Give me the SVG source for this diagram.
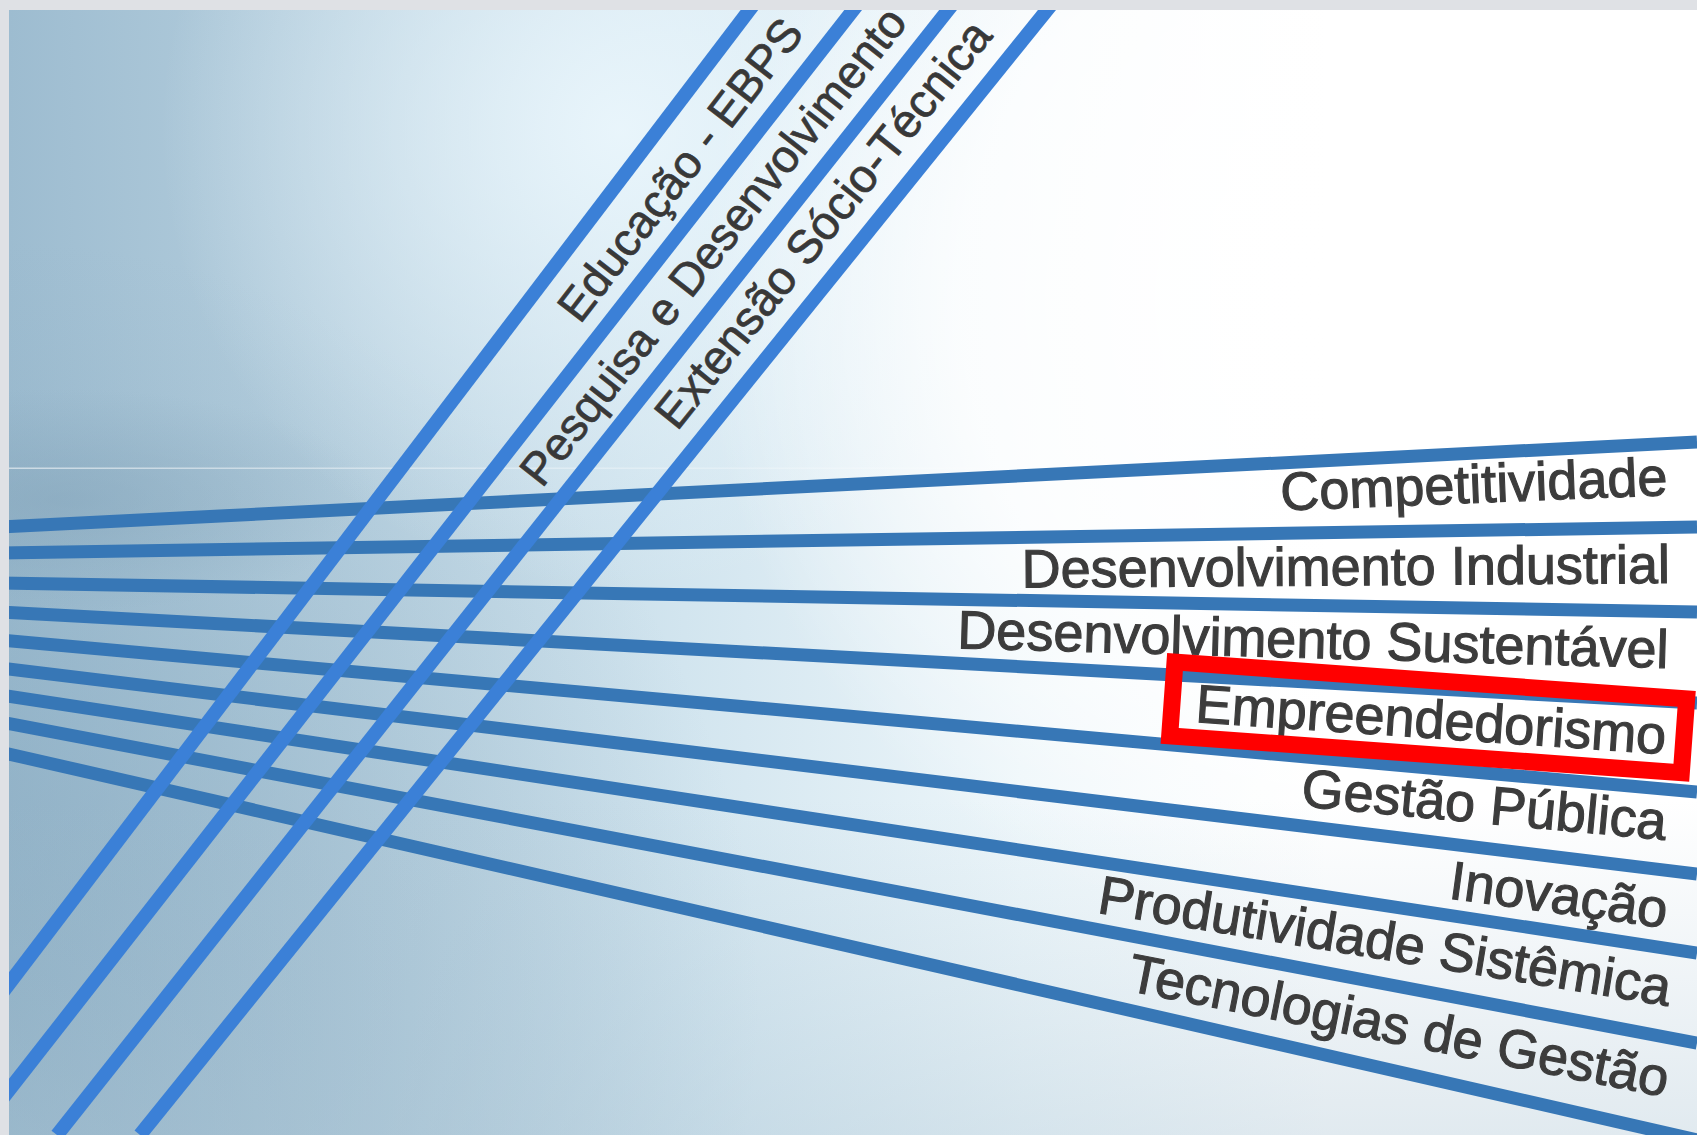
<svg xmlns="http://www.w3.org/2000/svg" width="1697" height="1135" viewBox="0 0 1697 1135">
  <defs>
    <linearGradient id="bgBase" x1="9" y1="0" x2="1697" y2="0" gradientUnits="userSpaceOnUse">
      <stop offset="0" stop-color="#9dbcd0"/>
      <stop offset="0.2" stop-color="#b7d0df"/>
      <stop offset="0.4" stop-color="#d2e5ef"/>
      <stop offset="0.6" stop-color="#edf6fa"/>
      <stop offset="0.78" stop-color="#ffffff"/>
      <stop offset="1" stop-color="#ffffff"/>
    </linearGradient>
    <radialGradient id="topGlow" cx="620" cy="130" r="460" gradientUnits="userSpaceOnUse">
      <stop offset="0" stop-color="#eaf6fc" stop-opacity="0.95"/>
      <stop offset="1" stop-color="#eaf6fc" stop-opacity="0"/>
    </radialGradient>
    <radialGradient id="whiteGlow" cx="1350" cy="300" r="650" gradientUnits="userSpaceOnUse">
      <stop offset="0" stop-color="#ffffff" stop-opacity="1"/>
      <stop offset="0.6" stop-color="#ffffff" stop-opacity="0.8"/>
      <stop offset="1" stop-color="#ffffff" stop-opacity="0"/>
    </radialGradient>
    <radialGradient id="darkCorner" cx="0" cy="1000" r="760" gradientUnits="userSpaceOnUse">
      <stop offset="0" stop-color="#86a8be" stop-opacity="0.6"/>
      <stop offset="1" stop-color="#86a8be" stop-opacity="0"/>
    </radialGradient>
    <radialGradient id="darkBand" cx="60" cy="500" r="320" gradientUnits="userSpaceOnUse" gradientTransform="translate(60,500) scale(1,0.35) translate(-60,-500)">
      <stop offset="0" stop-color="#7e9fb5" stop-opacity="0.45"/>
      <stop offset="1" stop-color="#7e9fb5" stop-opacity="0"/>
    </radialGradient>
    <linearGradient id="bottomShade" x1="0" y1="800" x2="0" y2="1135" gradientUnits="userSpaceOnUse">
      <stop offset="0" stop-color="#a9c3d3" stop-opacity="0"/>
      <stop offset="1" stop-color="#a9c3d3" stop-opacity="0.35"/>
    </linearGradient>
    <linearGradient id="faintLine" x1="9" y1="0" x2="1400" y2="0" gradientUnits="userSpaceOnUse">
      <stop offset="0" stop-color="#ffffff" stop-opacity="0.55"/>
      <stop offset="1" stop-color="#ffffff" stop-opacity="0"/>
    </linearGradient>
    <style>
      .h { stroke: #3777b6; stroke-width: 13; fill: none; }
      .d { stroke: #3b80d7; stroke-width: 14; fill: none; }
      .lbl { font-family: "Liberation Sans", Arial, sans-serif; font-size: 54px; fill: #3c3c3c; stroke: #3c3c3c; stroke-width: 1.1px; text-anchor: end; }
      .dlbl { font-family: "Liberation Sans", Arial, sans-serif; font-size: 46px; fill: #383838; stroke: #383838; stroke-width: 0.7px; }
      .frame { fill: #dfe1e5; }
    </style>
  </defs>

  <g id="background">
    <rect x="0" y="0" width="1697" height="1135" fill="url(#bgBase)"/>
    <rect x="0" y="0" width="1697" height="1135" fill="url(#darkCorner)"/>
    <rect x="0" y="0" width="1697" height="1135" fill="url(#darkBand)"/>
    <rect x="0" y="0" width="1697" height="1135" fill="url(#topGlow)"/>
    <rect x="0" y="0" width="1697" height="1135" fill="url(#whiteGlow)"/>
    <rect x="0" y="800" width="1697" height="335" fill="url(#bottomShade)"/>
    <rect x="9" y="467.5" width="1391" height="1.5" fill="url(#faintLine)"/>
  </g>

  <g id="connectors">
    <line class="h" x1="0" y1="527" x2="1697" y2="442"/>
    <line class="h" x1="0" y1="553" x2="1697" y2="527"/>
    <line class="h" x1="0" y1="583" x2="1697" y2="612"/>
    <line class="h" x1="0" y1="612" x2="1697" y2="703"/>
    <line class="h" x1="0" y1="640" x2="1697" y2="792"/>
    <line class="h" x1="0" y1="668" x2="1697" y2="874"/>
    <line class="h" x1="0" y1="695" x2="1697" y2="953"/>
    <line class="h" x1="0" y1="722" x2="1697" y2="1043"/>
    <line class="h" x1="0" y1="752" x2="1697" y2="1140"/>

    <line class="d" x1="757" y1="0" x2="-106" y2="1135"/>
    <line class="d" x1="861" y1="0" x2="-26" y2="1135"/>
    <line class="d" x1="956" y1="0" x2="57" y2="1135"/>
    <line class="d" x1="1055" y1="0" x2="140" y2="1135"/>
  </g>

  <g id="node-educacao">
    <text class="dlbl" transform="translate(580,325) rotate(-52.3)">Educação - EBPS</text>
  </g>
  <g id="node-pesquisa">
    <text class="dlbl" transform="translate(542,489) rotate(-51.8)">Pesquisa e Desenvolvimento</text>
  </g>
  <g id="node-extensao">
    <text class="dlbl" style="font-size:47px" transform="translate(677,432) rotate(-51.3)">Extensão Sócio-Técnica</text>
  </g>

  <g id="node-competitividade">
    <text class="lbl" transform="translate(1668,495) rotate(-2.3)">Competitividade</text>
  </g>
  <g id="node-des-industrial">
    <text class="lbl" transform="translate(1670,583) rotate(-0.4)">Desenvolvimento Industrial</text>
  </g>
  <g id="node-des-sustentavel">
    <text class="lbl" transform="translate(1668,668) rotate(1.6)">Desenvolvimento Sustentável</text>
  </g>
  <g id="node-empreendedorismo">
    <text class="lbl" transform="translate(1665,754) rotate(3.9)">Empreendedorismo</text>
  </g>
  <g id="node-gestao-publica">
    <text class="lbl" transform="translate(1665,840) rotate(5.3)">Gestão Pública</text>
  </g>
  <g id="node-inovacao">
    <text class="lbl" transform="translate(1665,928) rotate(7.8)">Inovação</text>
  </g>
  <g id="node-produtividade">
    <text class="lbl" transform="translate(1668,1006) rotate(9.3)">Produtividade Sistêmica</text>
  </g>
  <g id="node-tecnologias">
    <text class="lbl" transform="translate(1665,1097) rotate(11.2)">Tecnologias de Gestão</text>
  </g>

  <g id="highlight">
    <rect x="0" y="0" width="513" height="74" fill="none" stroke="#ff0000" stroke-width="17" transform="translate(1175,662) rotate(4.13)"/>
  </g>

  <g id="frame">
    <rect class="frame" x="0" y="0" width="1697" height="10"/>
    <rect class="frame" x="0" y="0" width="9" height="1135"/>
  </g>
</svg>
